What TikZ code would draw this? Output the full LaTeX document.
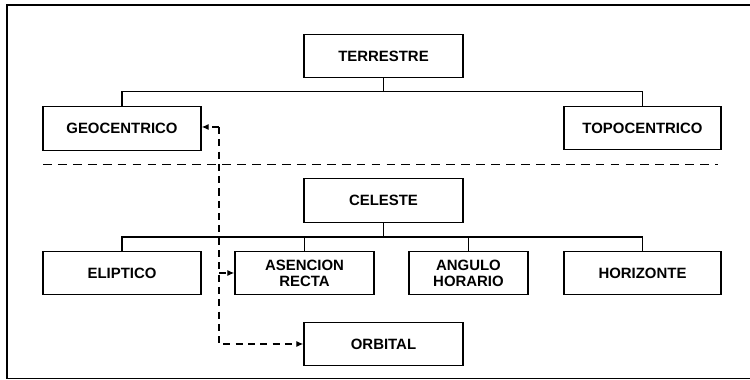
\documentclass[tikz,border=0pt]{standalone}
\usepackage{fontspec}
\setmainfont{Liberation Sans}
\usetikzlibrary{arrows.meta}
\tikzset{
	caja/.style={draw,line width=0.8pt,minimum height=0.87cm,align=center,
		font=\bfseries\fontsize{8.5}{9}\selectfont},
	enlace/.style={line width=0.6pt},
	flecha/.style={line width=0.7pt,dashed,dash pattern=on 4pt off 3pt,
		-{Latex[length=4pt,width=3.5pt]}}
}
\begin{document}
\begin{tikzpicture}
			\useasboundingbox (0,0) rectangle (15,7.6);
			% marco
			\draw[line width=0.9pt] (15,7.5) -- (0.14,7.5) -- (0.14,0.03) -- (15,0.03);
			% sistemas terrestres
			\node[caja,minimum width=3.18cm] (terrestre) at (7.67,6.48) {TERRESTRE};
			\node[caja,minimum width=3.16cm] (geo) at (2.44,5.03) {GEOCENTRICO};
			\node[caja,minimum width=3.14cm] (topo) at (12.85,5.04) {TOPOCENTRICO};
			\coordinate (tbus) at (7.67,5.77);
			\draw[enlace] (terrestre) -- (tbus);
			\draw[enlace] (geo) |- (tbus) -| (topo);
			% separador
			\coordinate (sepA) at (0.86,4.31);
			\coordinate (sepB) at (14.36,4.31);
			\draw[line width=0.8pt,dash pattern=on 5pt off 3.5pt] (sepA) -- (sepB);
			% sistemas celestes
			\node[caja,minimum width=3.18cm] (celeste) at (7.67,3.59) {CELESTE};
			\node[caja,minimum width=3.16cm] (eliptico) at (2.44,2.14) {ELIPTICO};
			\node[caja,minimum width=2.78cm] (asencion) at (6.09,2.14) {ASENCION\\RECTA};
			\node[caja,minimum width=2.38cm] (angulo) at (9.37,2.14) {ANGULO\\HORARIO};
			\node[caja,minimum width=3.14cm] (horizonte) at (12.85,2.14) {HORIZONTE};
			\node[caja,minimum width=3.18cm] (orbital) at (7.67,0.72) {ORBITAL};
			\coordinate (cbus) at (7.67,2.86);
			\draw[enlace] (celeste) -- (cbus);
			\draw[enlace] (eliptico) |- (cbus) -| (horizonte);
			\draw[enlace] (asencion) -- (asencion |- cbus);
			\draw[enlace] (angulo) -- (angulo |- cbus);
			% relacion con el geocentrico
			\coordinate (via) at (4.38,5.06);
			\draw[flecha] (via) -- (geo.east |- via);
			\draw[flecha] (via |- asencion) -- (asencion.west);
			\draw[flecha] (via) |- (orbital.west);
		\end{tikzpicture}
\end{document}
